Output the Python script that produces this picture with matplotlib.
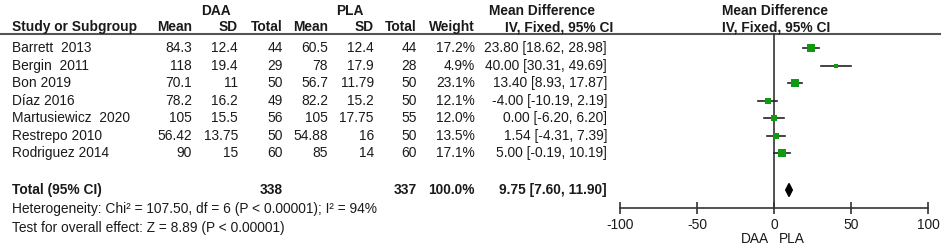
import numpy as np
import matplotlib.pyplot as plt
from matplotlib.patches import Polygon

plt.rcParams['font.family'] = ['Liberation Sans', 'DejaVu Sans']

studies = ['Barrett  2013', 'Bergin  2011', 'Bon 2019', 'Díaz 2016',
           'Martusiewicz  2020', 'Restrepo 2010', 'Rodriguez 2014']
daa_mean = ['84.3', '118', '70.1', '78.2', '105', '56.42', '90']
daa_sd = ['12.4', '19.4', '11', '16.2', '15.5', '13.75', '15']
daa_n = [44, 29, 50, 49, 56, 50, 60]
pla_mean = ['60.5', '78', '56.7', '82.2', '105', '54.88', '85']
pla_sd = ['12.4', '17.9', '11.79', '15.2', '17.75', '16', '14']
pla_n = [44, 28, 50, 50, 55, 50, 60]
weight = [17.2, 4.9, 23.1, 12.1, 12.0, 13.5, 17.1]
md = [23.80, 40.00, 13.40, -4.00, 0.00, 1.54, 5.00]
lo = [18.62, 30.31, 8.93, -10.19, -6.20, -4.31, -0.19]
hi = [28.98, 49.69, 17.87, 2.19, 6.20, 7.39, 10.19]
tot_md, tot_lo, tot_hi = 9.75, 7.60, 11.90
xticks = [-100, -50, 0, 50, 100]

W, H = 945, 249
fig = plt.figure(figsize=(W / 100, H / 100), dpi=100)
ax = fig.add_axes([0, 0, 1, 1])
ax.set_xlim(0, W)
ax.set_ylim(H, 0)
ax.axis('off')

fs = 9.9
tc = '#1a1a1a'
row_y = 48 + 17.5 * np.arange(len(studies))
tot_y = 190

# headers
ax.text(216, 11, 'DAA', ha='center', va='center', fontsize=fs, weight='bold', color=tc)
ax.text(350, 11, 'PLA', ha='center', va='center', fontsize=fs, weight='bold', color=tc)
ax.text(542, 11, 'Mean Difference', ha='center', va='center', fontsize=fs, weight='bold', color=tc)
ax.text(775, 11, 'Mean Difference', ha='center', va='center', fontsize=fs, weight='bold', color=tc)
ax.text(12, 27, 'Study or Subgroup', ha='left', va='center', fontsize=fs, weight='bold', color=tc)
cols = [(192, 'Mean'), (238, 'SD'), (283, 'Total'), (328, 'Mean'), (374, 'SD'),
        (417, 'Total'), (475, 'Weight'), (613, 'IV, Fixed, 95% CI')]
for x, s in cols:
    ax.text(x, 27, s, ha='right', va='center', fontsize=fs, weight='bold', color=tc)
ax.text(776, 27, 'IV, Fixed, 95% CI', ha='center', va='center', fontsize=fs, weight='bold', color=tc)
ax.plot([0, 940], [33.5, 33.5], color='#555555', lw=1.5)

# study rows
for i, y in enumerate(row_y):
    ax.text(12, y, studies[i], ha='left', va='center', fontsize=fs, color=tc)
    vals = [daa_mean[i], daa_sd[i], str(daa_n[i]), pla_mean[i], pla_sd[i], str(pla_n[i]),
            f'{weight[i]:.1f}%', f'{md[i]:.2f} [{lo[i]:.2f}, {hi[i]:.2f}]']
    for (x, _), s in zip(cols, vals):
        x = 607 if s.endswith(']') else x
        ax.text(x, y, s, ha='right', va='center', fontsize=fs, color=tc)

# total row
ax.text(12, tot_y, 'Total (95% CI)', ha='left', va='center', fontsize=fs, weight='bold', color=tc)
ax.text(283, tot_y, str(sum(daa_n)), ha='right', va='center', fontsize=fs, weight='bold', color=tc)
ax.text(417, tot_y, str(sum(pla_n)), ha='right', va='center', fontsize=fs, weight='bold', color=tc)
ax.text(475, tot_y, '100.0%', ha='right', va='center', fontsize=fs, weight='bold', color=tc)
ax.text(607, tot_y, f'{tot_md:.2f} [{tot_lo:.2f}, {tot_hi:.2f}]', ha='right', va='center',
        fontsize=fs, weight='bold', color=tc)
ax.text(12, 209, 'Heterogeneity: Chi² = 107.50, df = 6 (P < 0.00001); I² = 94%',
        ha='left', va='center', fontsize=fs, color=tc)
ax.text(12, 228, 'Test for overall effect: Z = 8.89 (P < 0.00001)',
        ha='left', va='center', fontsize=fs, color=tc)

# forest panel
fx = fig.add_axes([620 / W, 0, 308 / W, 1])
fx.set_xlim(-100, 100)
fx.set_ylim(H, 0)
fx.patch.set_alpha(0)
for s in ['top', 'left', 'right']:
    fx.spines[s].set_visible(False)
fx.spines['bottom'].set_position(('data', 208))
fx.spines['bottom'].set_color('#333333')
fx.spines['bottom'].set_linewidth(1.2)
fx.set_yticks([])
fx.set_xticks(xticks)
fx.set_xticklabels([str(t) for t in xticks])
fx.tick_params(axis='x', direction='inout', length=9, width=1.2, color='#333333',
               labelsize=fs, labelcolor=tc, pad=2.5)
fx.plot([0, 0], [33.5, 208], color='#333333', lw=1.2)

for i, y in enumerate(row_y):
    fx.plot([lo[i], hi[i]], [y, y], color='#222222', lw=1.2)
    side = 1.75 * np.sqrt(weight[i])
    fx.plot(md[i], y, marker='s', ms=side * 0.72, color='#109a10', mec='#109a10', mew=0)

dh = 6.5
fx.add_patch(Polygon([[tot_lo, tot_y], [tot_md, tot_y - dh], [tot_hi, tot_y], [tot_md, tot_y + dh]],
                     closed=True, color='black'))

fx.text(-3, 239, 'DAA', ha='right', va='center', fontsize=fs, color=tc)
fx.text(3, 239, 'PLA', ha='left', va='center', fontsize=fs, color=tc)

fig.savefig('out.png', dpi=100)
